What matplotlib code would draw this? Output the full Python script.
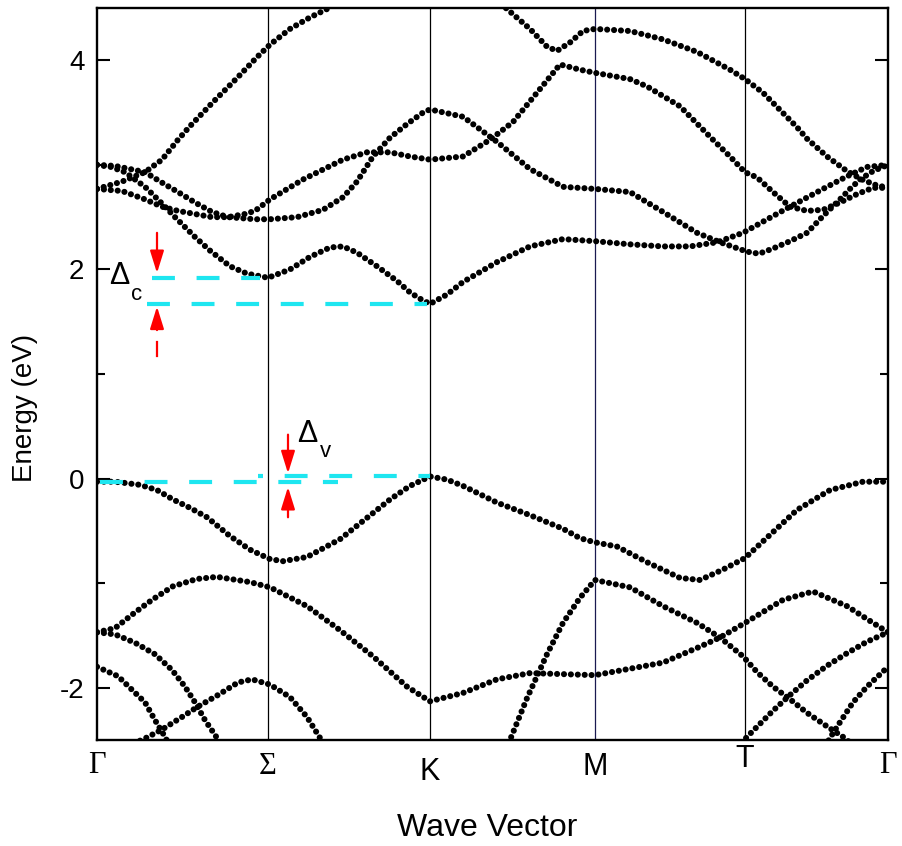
import numpy as np
import matplotlib
matplotlib.use("Agg")
import matplotlib.pyplot as plt
from matplotlib.patches import ArrowStyle

plt.rcParams['font.family'] = ['Liberation Sans', 'DejaVu Sans']

# high-symmetry points along the path (arbitrary path-length units)
kpath_pos = [0.0, 1.71, 3.33, 4.98, 6.48, 7.91]
kpath_labels = ['Γ', 'Σ', 'K', 'M', 'T', 'Γ']

# bands: (k, E in eV)
band_a = [(0.00, 2.77), (0.25, 2.84), (0.48, 2.93), (0.65, 3.05), (0.81, 3.24), (0.93, 3.37),
          (1.16, 3.60), (1.40, 3.83), (1.60, 4.03), (1.73, 4.15), (1.93, 4.30), (2.13, 4.41),
          (2.30, 4.49), (2.45, 4.57)]
band_c1 = [(0.00, 3.00), (0.14, 2.98), (0.28, 2.93), (0.48, 2.79), (0.65, 2.63), (0.78, 2.50),
           (0.98, 2.31), (1.13, 2.18), (1.33, 2.03), (1.50, 1.96), (1.71, 1.92), (1.93, 2.00),
           (2.13, 2.12), (2.33, 2.21), (2.46, 2.22), (2.60, 2.16), (2.80, 2.03), (3.00, 1.89),
           (3.13, 1.78), (3.23, 1.72), (3.33, 1.67), (3.50, 1.76), (3.66, 1.88), (4.00, 2.07),
           (4.33, 2.22), (4.66, 2.29), (4.98, 2.27), (5.33, 2.24), (5.66, 2.22), (5.93, 2.22),
           (6.20, 2.26), (6.46, 2.35), (6.76, 2.51), (6.93, 2.60), (7.26, 2.77), (7.50, 2.89),
           (7.70, 2.98), (7.91, 3.00)]
band_p = [(0.00, 3.00), (0.18, 2.99), (0.48, 2.93), (0.65, 2.83), (0.81, 2.74), (0.98, 2.64),
          (1.15, 2.55), (1.31, 2.50), (1.58, 2.48), (1.73, 2.48), (2.00, 2.50), (2.26, 2.57),
          (2.46, 2.69), (2.60, 2.84), (2.76, 3.08), (2.93, 3.26), (3.10, 3.39), (3.26, 3.50),
          (3.33, 3.53), (3.66, 3.46), (4.00, 3.22), (4.33, 2.96), (4.66, 2.79), (4.98, 2.77),
          (5.33, 2.74), (5.66, 2.55), (6.00, 2.35), (6.23, 2.26), (6.50, 2.17), (6.62, 2.15),
          (6.76, 2.20), (6.93, 2.27), (7.10, 2.35), (7.26, 2.51), (7.43, 2.67), (7.53, 2.77),
          (7.63, 2.86), (7.76, 2.94), (7.91, 3.00)]
band_q = [(0.00, 2.77), (0.25, 2.75), (0.48, 2.67), (0.65, 2.60), (0.81, 2.56), (0.98, 2.53),
          (1.15, 2.50), (1.31, 2.50), (1.48, 2.53), (1.58, 2.56), (1.73, 2.67), (2.06, 2.86),
          (2.46, 3.05), (2.70, 3.12), (2.93, 3.12), (3.13, 3.08), (3.33, 3.05), (3.66, 3.08),
          (3.93, 3.24), (4.16, 3.41), (4.40, 3.69), (4.63, 3.96), (4.83, 3.91), (4.98, 3.88),
          (5.33, 3.82), (5.50, 3.75), (5.83, 3.56), (6.16, 3.24), (6.33, 3.08), (6.48, 2.93),
          (6.60, 2.88), (6.76, 2.74), (6.93, 2.60), (7.10, 2.56), (7.26, 2.57), (7.43, 2.64),
          (7.60, 2.72), (7.76, 2.78), (7.91, 2.78)]
band_top = [(3.90, 4.66), (4.10, 4.49), (4.33, 4.30), (4.50, 4.13), (4.60, 4.09), (4.73, 4.17),
            (4.86, 4.28), (4.98, 4.30), (5.33, 4.28), (5.66, 4.20), (6.00, 4.08), (6.33, 3.91),
            (6.48, 3.82), (6.66, 3.69), (7.00, 3.36), (7.10, 3.25), (7.30, 3.08), (7.50, 2.94),
            (7.65, 2.86), (7.78, 2.81), (7.91, 2.78)]
band_v1 = [(0.00, -0.03), (0.18, -0.03), (0.43, -0.06), (0.60, -0.11), (0.76, -0.20), (0.93, -0.28),
           (1.10, -0.37), (1.33, -0.55), (1.53, -0.68), (1.73, -0.77), (1.86, -0.79), (2.10, -0.75),
           (2.43, -0.58), (2.76, -0.33), (2.93, -0.20), (3.13, -0.07), (3.33, 0.02), (3.50, -0.01),
           (3.66, -0.07), (4.00, -0.23), (4.33, -0.35), (4.66, -0.48), (4.83, -0.57), (4.98, -0.61),
           (5.20, -0.65), (5.50, -0.80), (5.83, -0.95), (6.03, -0.97), (6.26, -0.87), (6.48, -0.76),
           (6.66, -0.60), (6.83, -0.45), (7.00, -0.30), (7.33, -0.11), (7.66, -0.03), (7.91, -0.03)]
band_v2 = [(0.00, -1.47), (0.18, -1.43), (0.38, -1.28), (0.55, -1.16), (0.76, -1.03), (1.00, -0.96),
           (1.20, -0.94), (1.53, -0.99), (1.73, -1.04), (2.10, -1.22), (2.43, -1.45), (2.76, -1.70),
           (3.10, -1.99), (3.33, -2.13), (3.66, -2.05), (4.00, -1.92), (4.33, -1.86), (4.98, -1.88),
           (5.66, -1.76), (6.00, -1.62), (6.23, -1.52), (6.48, -1.38), (6.86, -1.16), (7.16, -1.08),
           (7.50, -1.22), (7.76, -1.38), (7.91, -1.47)]
band_v3 = [(4.05, -2.65), (4.13, -2.50), (4.30, -2.10), (4.50, -1.68), (4.66, -1.38), (4.83, -1.14),
           (4.98, -0.97), (5.33, -1.04), (5.66, -1.22), (6.00, -1.38), (6.23, -1.52), (6.46, -1.70),
           (6.60, -1.85), (6.76, -1.99), (6.93, -2.11), (7.10, -2.24), (7.30, -2.37), (7.46, -2.47),
           (7.60, -2.58)]
band_v4 = [(6.40, -2.58), (6.50, -2.47), (6.76, -2.22), (6.93, -2.07), (7.10, -1.93), (7.30, -1.79),
           (7.50, -1.67), (7.70, -1.56), (7.91, -1.47)]
band_v5 = [(7.25, -2.62), (7.33, -2.48), (7.43, -2.33), (7.56, -2.14), (7.70, -1.99), (7.91, -1.80)]
band_v6 = [(0.00, -1.80), (0.21, -1.89), (0.35, -2.02), (0.48, -2.14), (0.58, -2.31), (0.68, -2.47),
           (0.75, -2.60)]
band_v7 = [(0.00, -1.47), (0.18, -1.49), (0.38, -1.57), (0.58, -1.68), (0.75, -1.83), (0.88, -1.99),
           (0.98, -2.14), (1.08, -2.31), (1.20, -2.48), (1.28, -2.62)]
band_v8 = [(0.30, -2.55), (0.45, -2.50), (0.65, -2.40), (0.85, -2.28), (1.01, -2.18), (1.21, -2.07),
           (1.41, -1.95), (1.55, -1.92), (1.73, -1.97), (1.93, -2.09), (2.10, -2.28), (2.23, -2.48),
           (2.30, -2.62)]

bands = [band_a, band_c1, band_p, band_q, band_top, band_v1, band_v2, band_v3,
         band_v4, band_v5, band_v6, band_v7, band_v8]

def lookup(band, k):
    for kk, e in band:
        if abs(kk - k) < 1e-6:
            return e
    return float("nan")

fig = plt.figure(figsize=(9.02, 8.46), dpi=100)
ax = fig.add_axes([97/902, 1 - 740/846, (888 - 97)/902, (740 - 8)/846])

for xv, lab in zip(kpath_pos[1:-1], kpath_labels[1:-1]):
    ax.axvline(xv, color="#1a1a50" if lab == "M" else "black", lw=0.9, zorder=1)

for b in bands:
    k, e = np.array(b).T
    ax.plot(k, e, color="black", lw=4.4, linestyle=(0, (0.01, 1.12)),
            dash_capstyle="round", zorder=3, clip_on=True)

# gap markers
cyan = "#1ee6f0"
cyan_ls = (0, (5.5, 5.2))
ec_sigma = lookup(band_c1, 1.71)
ec_k = lookup(band_c1, 3.33)
ev_g = lookup(band_v1, 0.00)
ev_k = lookup(band_v1, 3.33)
ax.plot([0.55, 1.63], [ec_sigma, ec_sigma], color=cyan, lw=3, linestyle=cyan_ls, zorder=4)
ax.plot([0.50, 3.30], [ec_k, ec_k], color=cyan, lw=3, linestyle=cyan_ls, zorder=4)
ax.plot([0.03, 2.41], [ev_g, ev_g], color=cyan, lw=3, linestyle=cyan_ls, zorder=4)
ax.plot([1.61, 3.33], [ev_k, ev_k], color=cyan, lw=3, linestyle=(4.3, (5.5, 5.2)), zorder=4)

ast = ArrowStyle("-|>", head_length=0.9, head_width=0.28)
def arrow(x, y0, y1):
    ax.annotate("", xy=(x, y1), xytext=(x, y0),
                arrowprops=dict(arrowstyle=ast, color="red", lw=1.6, mutation_scale=15,
                                shrinkA=0, shrinkB=0), zorder=5)

arrow(0.60, 2.35, 1.965)
arrow(0.60, 1.42, 1.645)
ax.plot([0.60, 0.60], [1.17, 1.31], color="red", lw=1.6, zorder=5)
arrow(1.91, 0.42, 0.05)
arrow(1.91, -0.37, -0.08)

ax.text(0.12, 1.86, "Δ", fontsize=22, ha="left", va="baseline", zorder=6)
ax.text(0.34, 1.71, "c", fontsize=16, ha="left", va="baseline", zorder=6)
ax.text(2.00, 0.354, "Δ", fontsize=22, ha="left", va="baseline", zorder=6)
ax.text(2.23, 0.21, "v", fontsize=16, ha="left", va="baseline", zorder=6)

ax.set_xlim(kpath_pos[0], kpath_pos[-1])
ax.set_ylim(-2.5, 4.5)
ax.set_yticks([-2, 0, 2, 4])
ax.set_yticks([-1, 1, 3], minor=True)
ax.set_yticklabels(["-2", "0", "2", "4"])
ax.set_xticks([])
ax.tick_params(axis="y", which="both", direction="in", left=True, right=True, width=1.5,
               labelsize=20, pad=9)
ax.tick_params(axis="y", which="major", length=9.5)
ax.tick_params(axis="y", which="minor", length=6)
for s in ax.spines.values():
    s.set_linewidth(1.7)

# path labels (Greek ones drawn in a serif face like the original)
label_dy = [-18, -19, -23, -19.5, -14, -18]
for xv, lab, dy in zip(kpath_pos, kpath_labels, label_dy):
    fam = ["Liberation Serif", "DejaVu Serif"] if lab in ("Γ", "Σ") else ["Liberation Sans"]
    ax.annotate(lab, xy=(xv, 0), xycoords=("data", "axes fraction"),
                xytext=(0, dy), textcoords="offset points",
                ha="center", va="center", fontsize=22, family=fam, annotation_clip=False)

fig.text(25/902, 1 - 408/846, "Energy (eV)", rotation=90, ha="center", va="center", fontsize=20)
fig.text(487/902, 1 - 828/846, "Wave Vector", ha="center", va="center", fontsize=23)

fig.savefig("out.png", dpi=100)
